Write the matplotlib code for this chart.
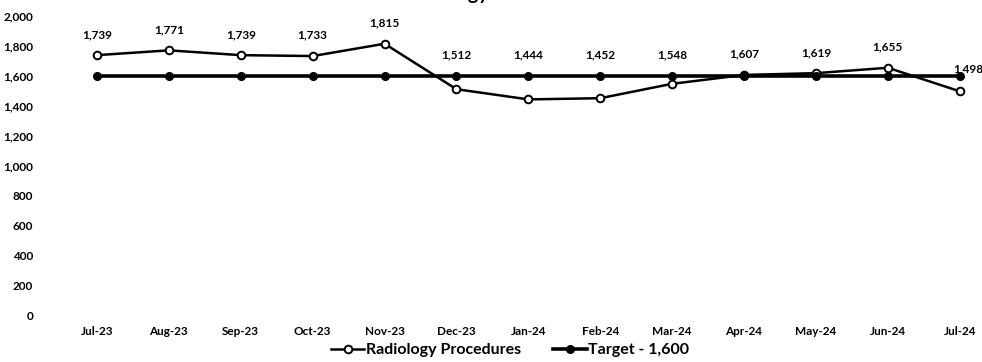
import matplotlib.pyplot as plt
import numpy as np

months = ["Jul-23", "Aug-23", "Sep-23", "Oct-23", "Nov-23", "Dec-23", "Jan-24",
          "Feb-24", "Mar-24", "Apr-24", "May-24", "Jun-24", "Jul-24"]
procedures = [1739, 1771, 1739, 1733, 1815, 1512, 1444, 1452, 1548, 1607, 1619, 1655, 1498]
target = [1600] * len(months)
y_ticks = list(range(0, 2001, 200))

plt.rcParams["font.family"] = ["Lato", "DejaVu Sans"]
plt.rcParams["font.weight"] = "bold"

fig = plt.figure(figsize=(9.82, 3.62), dpi=100)
ax = fig.add_axes([61 / 982, 1 - 316 / 362, 921 / 982, 300 / 362])

x = np.arange(len(months))
l1, = ax.plot(x, procedures, color="black", lw=1.8, marker="o", ms=5.5,
              mfc="white", mec="black", mew=1.4, label="Radiology Procedures")
l2, = ax.plot(x, target, color="black", lw=2.6, marker="o", ms=5.5,
              mfc="black", mec="black", label="Target - 1,600")

# value labels sit above whichever line is higher at that month
last = len(months) - 1
for i, v in enumerate(procedures):
    top = max(v, target[i])
    off = (6, 1) if i == last else (0, 11)
    ax.annotate(f"{v:,}", (x[i], top), xytext=off, textcoords="offset points",
                ha="center", va="bottom", fontsize=8.5, fontweight="bold")

ax.set_xlim(-0.5, -0.5 + 921 / 71.9)
ax.set_ylim(0, 2000)
ax.set_yticks(y_ticks)
ax.set_yticklabels([f"{t:,}" for t in y_ticks])
ax.set_xticks(x)
ax.set_xticklabels(months)
ax.tick_params(length=0, labelsize=8.5, pad=7)
ax.tick_params(axis="y", pad=20)
for s in ax.spines.values():
    s.set_visible(False)

fig.legend(handles=[l1, l2], loc="center", bbox_to_anchor=(510 / 982, 1 - 350 / 362),
           ncol=2, frameon=False, fontsize=11.5, handlelength=2.1,
           handletextpad=0.1, columnspacing=2.0)

# chart title, mostly clipped by the top edge
fig.text(489 / 982, 1.0, "Radiology", ha="right", va="baseline",
         fontsize=14, fontweight="bold")

fig.savefig("out.png", dpi=100)
